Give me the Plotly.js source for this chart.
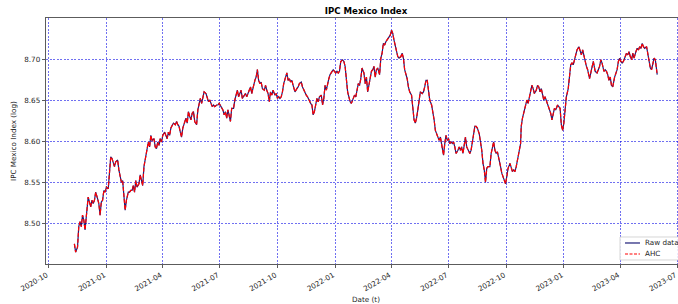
<!DOCTYPE html>
<html><head><meta charset="utf-8">
<script src="https://cdn.plot.ly/plotly-3.0.1.min.js"></script>
<style>html,body{margin:0;padding:0;overflow:hidden;background:#fff;width:678px;height:304px}</style>
</head><body><div id="chart" style="width:700px;height:304px"></div>
<script>
// Dates: day offsets from the start date
const startDate = '2020-10-01';
const dayOffsets = [
41,43,46,48,50,52,54,56,58,61,63,65,67,69,71,73,75,78,80,82,84,86,88,90,92,95,97,99,101,103,105,107,110,112,114,116,118,120,122,124,127,129,131,133,135,137,139,141,144,146,148,150,152,154,156,
159,161,163,165,168,170,172,174,176,178,180,182,185,187,189,191,193,195,197,199,202,204,206,208,210,212,214,216,219,221,223,225,227,229,231,233,236,238,240,242,244,246,248,251,253,255,257,259,261,263,265,268,270,272,
273,275,278,280,282,284,286,288,290,292,295,297,299,301,303,305,307,309,312,314,316,318,320,322,324,327,329,331,333,335,337,339,341,344,346,348,350,352,354,356,358,361,363,365,367,369,371,373,375,378,380,382,384,386,388,390,
393,396,398,400,403,405,407,409,411,413,415,418,420,422,424,426,428,430,432,435,437,439,441,443,445,447,449,452,454,456,458,460,462,464,466,469,471,473,475,477,479,481,483,486,488,490,492,494,496,498,500,503,505,507,509,511,
513,515,517,519,521,523,525,528,530,532,534,536,538,540,542,545,547,549,551,553,555,557,559,562,564,566,568,570,572,574,576,579,581,583,585,587,589,591,593,596,598,600,602,604,606,608,611,613,615,617,619,621,623,625,628,630,632,634,
636,638,640,642,644,646,648,650,653,655,657,659,661,663,665,667,670,672,674,676,678,680,682,684,687,689,691,693,695,697,699,701,704,706,708,710,712,714,716,718,721,723,725,727,729,731,733,736,738,740,742,744,746,748,750,753,
754,756,758,761,763,765,767,769,771,773,775,778,780,782,784,786,788,790,792,795,797,799,801,803,805,807,809,812,814,816,818,820,822,824,826,829,831,833,835,837,839,841,843,846,848,850,852,854,856,858,860,863,865,867,869,
872,875,877,879,881,883,886,888,890,892,894,896,898,900,903,905,907,909,911,913,915,917,920,922,924,926,928,930,932,934,937,939,941,943,945,947,949,951,954,956,958,960,962,964,966,968,971
];
const rawValues = [
8.475,8.465,8.471,8.496,8.502,8.496,8.510,8.504,8.492,8.516,8.532,8.526,8.520,8.528,8.524,8.528,8.538,8.530,8.524,8.510,8.526,8.528,8.540,8.538,8.544,8.542,8.557,8.581,8.579,8.575,8.569,8.575,8.577,8.565,8.555,8.550,8.552,8.534,8.516,8.528,8.538,8.538,8.540,8.540,8.546,8.538,8.552,8.544,8.548,8.559,8.550,8.546,8.569,8.577,8.585,
8.599,8.593,8.607,8.601,8.603,8.593,8.591,8.599,8.595,8.603,8.599,8.607,8.611,8.607,8.603,8.611,8.607,8.616,8.620,8.622,8.620,8.624,8.620,8.618,8.611,8.605,8.616,8.622,8.628,8.622,8.636,8.630,8.626,8.634,8.636,8.624,8.620,8.638,8.646,8.652,8.646,8.654,8.660,8.658,8.652,8.648,8.650,8.646,8.642,8.644,8.642,8.644,8.644,8.646,
8.644,8.642,8.638,8.632,8.636,8.628,8.638,8.632,8.624,8.640,8.640,8.650,8.658,8.662,8.654,8.658,8.662,8.652,8.656,8.658,8.654,8.658,8.662,8.666,8.658,8.670,8.674,8.678,8.687,8.674,8.670,8.672,8.664,8.662,8.668,8.662,8.658,8.648,8.660,8.656,8.662,8.656,8.658,8.652,8.654,8.652,8.654,8.660,8.670,8.678,8.683,8.674,8.676,8.672,8.674,8.668,
8.660,8.664,8.666,8.670,8.672,8.666,8.662,8.660,8.656,8.654,8.650,8.646,8.644,8.632,8.636,8.646,8.652,8.648,8.654,8.656,8.644,8.652,8.668,8.662,8.670,8.676,8.681,8.685,8.687,8.685,8.683,8.685,8.683,8.685,8.697,8.699,8.697,8.691,8.670,8.660,8.654,8.648,8.646,8.652,8.656,8.654,8.664,8.670,8.668,8.676,8.689,8.683,8.670,8.678,8.660,8.668,
8.674,8.685,8.687,8.691,8.678,8.687,8.689,8.681,8.701,8.707,8.719,8.717,8.721,8.723,8.725,8.729,8.735,8.731,8.723,8.715,8.709,8.703,8.701,8.703,8.707,8.701,8.687,8.681,8.676,8.666,8.660,8.656,8.642,8.626,8.622,8.628,8.638,8.652,8.660,8.658,8.660,8.666,8.674,8.674,8.662,8.650,8.644,8.636,8.626,8.613,8.609,8.607,8.601,8.605,8.593,8.583,8.597,8.607,
8.601,8.603,8.597,8.599,8.597,8.599,8.593,8.585,8.589,8.593,8.589,8.593,8.585,8.597,8.605,8.593,8.589,8.585,8.589,8.599,8.613,8.618,8.618,8.616,8.609,8.601,8.589,8.573,8.565,8.550,8.567,8.569,8.569,8.585,8.591,8.599,8.589,8.585,8.587,8.581,8.569,8.561,8.557,8.552,8.548,8.557,8.567,8.573,8.567,8.563,8.565,8.563,8.569,8.579,8.585,8.597,
8.618,8.628,8.634,8.646,8.650,8.646,8.654,8.664,8.668,8.664,8.658,8.662,8.668,8.666,8.660,8.664,8.654,8.650,8.654,8.648,8.644,8.638,8.634,8.626,8.634,8.640,8.638,8.644,8.642,8.640,8.620,8.613,8.622,8.638,8.654,8.664,8.683,8.693,8.695,8.693,8.699,8.707,8.711,8.715,8.709,8.705,8.711,8.703,8.695,8.691,8.687,8.676,8.683,8.691,8.697,
8.685,8.683,8.687,8.691,8.699,8.695,8.685,8.687,8.685,8.681,8.674,8.678,8.668,8.666,8.678,8.683,8.687,8.697,8.701,8.697,8.695,8.697,8.703,8.707,8.705,8.709,8.703,8.699,8.707,8.701,8.709,8.713,8.711,8.715,8.713,8.719,8.715,8.713,8.715,8.705,8.697,8.689,8.687,8.695,8.701,8.699,8.681
];
// AHC series: visually coincides with the raw data in the picture
const ahcValues = [
8.475,8.465,8.471,8.496,8.502,8.496,8.510,8.504,8.492,8.516,8.532,8.526,8.520,8.528,8.524,8.528,8.538,8.530,8.524,8.510,8.526,8.528,8.540,8.538,8.544,8.542,8.557,8.581,8.579,8.575,8.569,8.575,8.577,8.565,8.555,8.550,8.552,8.534,8.516,8.528,8.538,8.538,8.540,8.540,8.546,8.538,8.552,8.544,8.548,8.559,8.550,8.546,8.569,8.577,8.585,
8.599,8.593,8.607,8.601,8.603,8.593,8.591,8.599,8.595,8.603,8.599,8.607,8.611,8.607,8.603,8.611,8.607,8.616,8.620,8.622,8.620,8.624,8.620,8.618,8.611,8.605,8.616,8.622,8.628,8.622,8.636,8.630,8.626,8.634,8.636,8.624,8.620,8.638,8.646,8.652,8.646,8.654,8.660,8.658,8.652,8.648,8.650,8.646,8.642,8.644,8.642,8.644,8.644,8.646,
8.644,8.642,8.638,8.632,8.636,8.628,8.638,8.632,8.624,8.640,8.640,8.650,8.658,8.662,8.654,8.658,8.662,8.652,8.656,8.658,8.654,8.658,8.662,8.666,8.658,8.670,8.674,8.678,8.687,8.674,8.670,8.672,8.664,8.662,8.668,8.662,8.658,8.648,8.660,8.656,8.662,8.656,8.658,8.652,8.654,8.652,8.654,8.660,8.670,8.678,8.683,8.674,8.676,8.672,8.674,8.668,
8.660,8.664,8.666,8.670,8.672,8.666,8.662,8.660,8.656,8.654,8.650,8.646,8.644,8.632,8.636,8.646,8.652,8.648,8.654,8.656,8.644,8.652,8.668,8.662,8.670,8.676,8.681,8.685,8.687,8.685,8.683,8.685,8.683,8.685,8.697,8.699,8.697,8.691,8.670,8.660,8.654,8.648,8.646,8.652,8.656,8.654,8.664,8.670,8.668,8.676,8.689,8.683,8.670,8.678,8.660,8.668,
8.674,8.685,8.687,8.691,8.678,8.687,8.689,8.681,8.701,8.707,8.719,8.717,8.721,8.723,8.725,8.729,8.735,8.731,8.723,8.715,8.709,8.703,8.701,8.703,8.707,8.701,8.687,8.681,8.676,8.666,8.660,8.656,8.642,8.626,8.622,8.628,8.638,8.652,8.660,8.658,8.660,8.666,8.674,8.674,8.662,8.650,8.644,8.636,8.626,8.613,8.609,8.607,8.601,8.605,8.593,8.583,8.597,8.607,
8.601,8.603,8.597,8.599,8.597,8.599,8.593,8.585,8.589,8.593,8.589,8.593,8.585,8.597,8.605,8.593,8.589,8.585,8.589,8.599,8.613,8.618,8.618,8.616,8.609,8.601,8.589,8.573,8.565,8.550,8.567,8.569,8.569,8.585,8.591,8.599,8.589,8.585,8.587,8.581,8.569,8.561,8.557,8.552,8.548,8.557,8.567,8.573,8.567,8.563,8.565,8.563,8.569,8.579,8.585,8.597,
8.618,8.628,8.634,8.646,8.650,8.646,8.654,8.664,8.668,8.664,8.658,8.662,8.668,8.666,8.660,8.664,8.654,8.650,8.654,8.648,8.644,8.638,8.634,8.626,8.634,8.640,8.638,8.644,8.642,8.640,8.620,8.613,8.622,8.638,8.654,8.664,8.683,8.693,8.695,8.693,8.699,8.707,8.711,8.715,8.709,8.705,8.711,8.703,8.695,8.691,8.687,8.676,8.683,8.691,8.697,
8.685,8.683,8.687,8.691,8.699,8.695,8.685,8.687,8.685,8.681,8.674,8.678,8.668,8.666,8.678,8.683,8.687,8.697,8.701,8.697,8.695,8.697,8.703,8.707,8.705,8.709,8.703,8.699,8.707,8.701,8.709,8.713,8.711,8.715,8.713,8.719,8.715,8.713,8.715,8.705,8.697,8.689,8.687,8.695,8.701,8.699,8.681
];
const xTickDates = ['2020-10-01','2021-01-01','2021-04-01','2021-07-01','2021-10-01','2022-01-01','2022-04-01','2022-07-01','2022-10-01','2023-01-01','2023-04-01','2023-07-01'];
const xTickLabels = ['2020-10','2021-01','2021-04','2021-07','2021-10','2022-01','2022-04','2022-07','2022-10','2023-01','2023-04','2023-07'];
const yTickVals = [8.50, 8.55, 8.60, 8.65, 8.70];
const yTickLabels = ['8.50','8.55','8.60','8.65','8.70'];
const seriesNames = ['Raw data', 'AHC'];
const seriesColors = ['#1c1c78', '#ff0000'];
const seriesDash = ['solid', '4px,2px'];

const t0 = Date.parse(startDate + 'T00:00:00Z');
const dates = dayOffsets.map(d => new Date(t0 + d * 86400000).toISOString().slice(0, 10));

const FONT = 'DejaVu Sans, Liberation Sans, sans-serif';
const traces = [
  {x: dates, y: rawValues, type: 'scatter', mode: 'lines', name: seriesNames[0],
   line: {color: seriesColors[0], width: 1.2, dash: seriesDash[0]}},
  {x: dates, y: ahcValues, type: 'scatter', mode: 'lines', name: seriesNames[1],
   line: {color: seriesColors[1], width: 1.2, dash: seriesDash[1]}}
];
const axisCommon = {
  showline: true, linecolor: '#333', linewidth: 0.8, mirror: true,
  ticks: 'outside', ticklen: 3.5, tickwidth: 0.8, tickcolor: '#333',
  showgrid: true, gridcolor: 'rgba(0,0,230,0.7)', gridwidth: 0.8, griddash: '2px,1.5px',
  zeroline: false, tickfont: {size: 7.2, color: '#262626'}
};

// Compact matplotlib-style legend (lower right), drawn as paper-anchored shapes + text
const legBox = {x0: 0.8969, x1: 0.9969, y0: 0.0163, y1: 0.1098};
const legKeyX = [0.9047, 0.9281];
const legRowY = [0.0854, 0.0407];
const legTextX = 0.9328;
const shapes = [
  {type: 'rect', xref: 'paper', yref: 'paper', x0: legBox.x0, x1: legBox.x1, y0: legBox.y0, y1: legBox.y1,
   line: {color: '#cccccc', width: 0.8}, fillcolor: 'rgba(255,255,255,0.85)', layer: 'above'}
];
const annotations = [];
seriesNames.forEach((nm, i) => {
  shapes.push({type: 'line', xref: 'paper', yref: 'paper', x0: legKeyX[0], x1: legKeyX[1], y0: legRowY[i], y1: legRowY[i],
               line: {color: seriesColors[i], width: 1.2, dash: seriesDash[i] === 'solid' ? 'solid' : '3px,1.5px'}, layer: 'above'});
  annotations.push({xref: 'paper', yref: 'paper', x: legTextX, y: legRowY[i], xanchor: 'left', yanchor: 'middle',
                    text: nm, showarrow: false, font: {family: FONT, size: 7.2, color: '#262626'}});
});

const layout = {
  width: 700, height: 304,
  margin: {l: 46, r: 14, t: 18, b: 40},
  paper_bgcolor: '#fff', plot_bgcolor: '#fff',
  font: {family: FONT, size: 7.2, color: '#262626'},
  title: {text: '<b>IPC Mexico Index</b>', font: {family: FONT, size: 8.6, color: '#000'},
          x: 0.5, xref: 'paper', xanchor: 'center', y: 1 - 11/304, yref: 'container', yanchor: 'middle'},
  xaxis: Object.assign({}, axisCommon, {
    type: 'date', range: ['2020-09-26 17:00', '2023-07-14 22:00'],
    tickmode: 'array', tickvals: xTickDates, ticktext: xTickLabels, tickangle: -30, ticklabelshift: -2,
    title: {text: 'Date (t)', font: {size: 7.2, color: '#262626'}, standoff: 4}
  }),
  yaxis: Object.assign({}, axisCommon, {
    range: [8.4505, 8.7499],
    tickmode: 'array', tickvals: yTickVals, ticktext: yTickLabels,
    title: {text: 'IPC Mexico Index (log)', font: {size: 7.2, color: '#262626'}, standoff: 6}
  }),
  showlegend: false,
  shapes: shapes,
  annotations: annotations
};
Plotly.newPlot('chart', traces, layout, {staticPlot: true, displayModeBar: false});
</script></body></html>
